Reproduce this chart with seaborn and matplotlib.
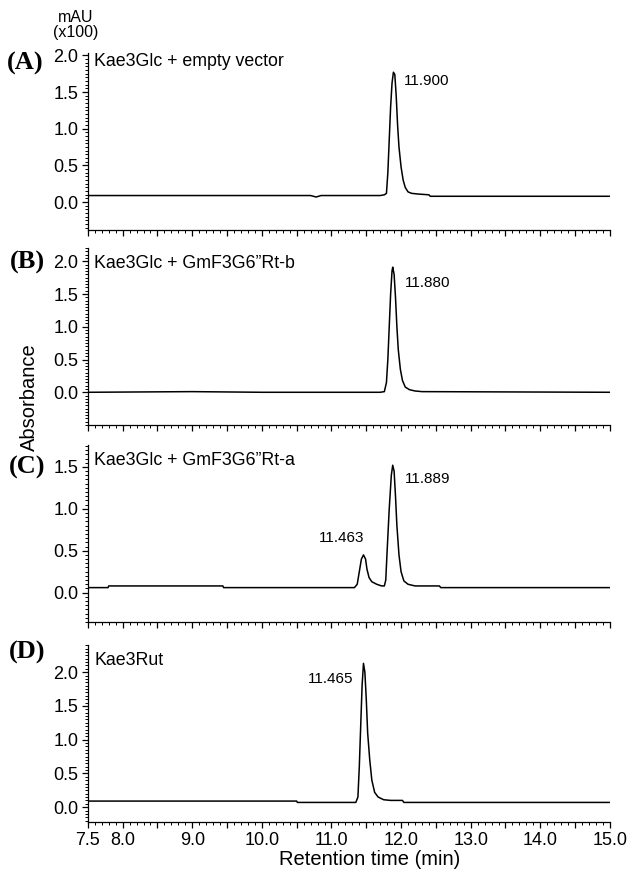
"""
HPLC chromatograms of Kae3Glc reactions (panels A-D)
"""
import numpy as np
import pandas as pd
import matplotlib
matplotlib.use("Agg")
import matplotlib.pyplot as plt
from matplotlib.ticker import MultipleLocator, FixedLocator, FixedFormatter
import seaborn as sns

# Traces: retention time (min) and absorbance (mAU x100)
time_a = [7.50, 10.70, 10.78, 10.85, 11.70, 11.76, 11.79, 11.81, 11.83, 11.85, 11.87, 11.89,
          11.91, 11.93, 11.95, 11.97, 12.00, 12.03, 12.06, 12.10, 12.15, 12.25, 12.40, 12.42, 15.00]
abs_a = [0.09, 0.09, 0.07, 0.09, 0.09, 0.10, 0.12, 0.40, 0.85, 1.30, 1.62, 1.77,
         1.74, 1.45, 1.05, 0.75, 0.48, 0.30, 0.20, 0.14, 0.12, 0.11, 0.10, 0.08, 0.08]

time_b = [7.50, 9.00, 10.00, 11.70, 11.76, 11.79, 11.81, 11.83, 11.85, 11.87, 11.88, 11.90,
          11.92, 11.94, 11.96, 11.99, 12.02, 12.06, 12.12, 12.20, 12.30, 15.00]
abs_b = [0.00, 0.01, 0.00, 0.00, 0.01, 0.15, 0.50, 1.00, 1.50, 1.85, 1.91, 1.80,
         1.45, 1.00, 0.65, 0.35, 0.18, 0.08, 0.04, 0.02, 0.01, 0.00]

time_c = [7.50, 7.79, 7.80, 9.44, 9.45, 11.33, 11.37, 11.40, 11.43, 11.46, 11.49, 11.51,
          11.54, 11.58, 11.65, 11.72, 11.76, 11.78, 11.80, 11.83, 11.86, 11.88, 11.90, 11.92,
          11.94, 11.97, 12.00, 12.04, 12.10, 12.20, 12.55, 12.57, 15.00]
abs_c = [0.06, 0.06, 0.08, 0.08, 0.06, 0.06, 0.10, 0.25, 0.40, 0.45, 0.40, 0.28,
         0.18, 0.13, 0.10, 0.08, 0.08, 0.15, 0.50, 1.00, 1.40, 1.52, 1.45, 1.15,
         0.80, 0.45, 0.25, 0.14, 0.10, 0.08, 0.08, 0.06, 0.06]

time_d = [7.50, 10.50, 10.51, 11.35, 11.38, 11.40, 11.42, 11.44, 11.46, 11.48, 11.50, 11.52,
          11.55, 11.58, 11.62, 11.67, 11.75, 11.85, 12.02, 12.04, 15.00]
abs_d = [0.09, 0.09, 0.07, 0.07, 0.15, 0.60, 1.20, 1.80, 2.13, 2.00, 1.60, 1.10,
         0.70, 0.40, 0.22, 0.15, 0.11, 0.10, 0.10, 0.07, 0.07]

samples = ["Kae3Glc + empty vector", "Kae3Glc + GmF3G6\u201dRt-b",
           "Kae3Glc + GmF3G6\u201dRt-a", "Kae3Rut"]
panel_tags = ["(A)", "(B)", "(C)", "(D)"]
ylims = [(-0.38, 2.03), (-0.5, 2.2), (-0.35, 1.76), (-0.22, 2.4)]
ytick_max = [2.0, 2.0, 1.5, 2.0]
# peak labels: (time, absorbance, text, ha)
peak_labels = [
    [(12.04, 1.65, "11.900", "left")],
    [(12.05, 1.67, "11.880", "left")],
    [(12.05, 1.36, "11.889", "left"), (11.14, 0.65, "11.463", "center")],
    [(10.99, 1.90, "11.465", "center")],
]
traces = [(time_a, abs_a), (time_b, abs_b), (time_c, abs_c), (time_d, abs_d)]

sns.set_style("ticks", {"text.color": "black", "axes.labelcolor": "black",
                        "xtick.color": "black", "ytick.color": "black"})
plt.rcParams["font.family"] = ["Liberation Sans", "DejaVu Sans"]

fig = plt.figure(figsize=(6.32, 8.8), dpi=100)

# axes boxes in figure fraction (left, bottom, width, height)
boxes = [(0.139, 0.7386, 0.826, 0.201), (0.139, 0.517, 0.826, 0.201),
         (0.139, 0.2932, 0.826, 0.201), (0.139, 0.0659, 0.826, 0.201)]
text_y = [0.95, 0.915, 0.915, 0.915]
tag_pos = [(25, 63), (27, 262), (27, 467), (27, 652)]

major_x = list(np.arange(7.5, 15.01, 0.5))
x_labels = ["7.5" if v == 7.5 else (f"{v:.1f}" if v == int(v) else "") for v in major_x]

for i, (t, a) in enumerate(traces):
    ax = fig.add_axes(boxes[i])
    df = pd.DataFrame({"time": t, "absorbance": a})
    sns.lineplot(data=df, x="time", y="absorbance", ax=ax, color="black",
                 linewidth=1.1, estimator=None, sort=False)
    ax.set_xlim(7.5, 15.0)
    ax.set_ylim(*ylims[i])
    sns.despine(ax=ax)
    ax.set_xlabel("")
    ax.set_ylabel("")

    ax.xaxis.set_major_locator(FixedLocator(major_x))
    ax.xaxis.set_minor_locator(MultipleLocator(0.1))
    if i == 3:
        ax.xaxis.set_major_formatter(FixedFormatter(x_labels))
    else:
        ax.set_xticklabels([])
    yt = list(np.arange(0, ytick_max[i] + 0.01, 0.5))
    ax.yaxis.set_major_locator(FixedLocator(yt))
    ax.set_yticklabels([f"{v:.1f}" for v in yt])
    ax.yaxis.set_minor_locator(MultipleLocator(0.05))
    ax.tick_params(axis="both", which="major", length=4, width=0.9, labelsize=13,
                   color="black", labelcolor="black", pad=3)
    ax.tick_params(axis="both", which="minor", length=2, width=0.7, color="black")
    for s in ["left", "bottom"]:
        ax.spines[s].set_color("black")
        ax.spines[s].set_linewidth(0.9)

    ax.text(0.012, text_y[i], samples[i], transform=ax.transAxes, fontsize=12.8,
            ha="left", va="center", color="black")
    for (px, py, lab, ha) in peak_labels[i]:
        ax.text(px, py, lab, fontsize=11, ha=ha, va="center", color="black")

    fig.text(tag_pos[i][0] / 632, 1 - tag_pos[i][1] / 880, panel_tags[i],
             family=["Liberation Serif", "DejaVu Serif"], fontweight="bold",
             fontsize=19, ha="center", va="center", color="black")

fig.text(76 / 632, 1 - 25 / 880, "mAU\n(x100)", fontsize=11.5, ha="center",
         va="center", linespacing=0.95, color="black")
fig.text(29 / 632, 1 - 397 / 880, "Absorbance", fontsize=14.5, rotation=90,
         ha="center", va="center", color="black")
fig.text(370 / 632, 1 - 859 / 880, "Retention time (min)", fontsize=14.5,
         ha="center", va="center", color="black")

fig.savefig("out.png", dpi=100)
